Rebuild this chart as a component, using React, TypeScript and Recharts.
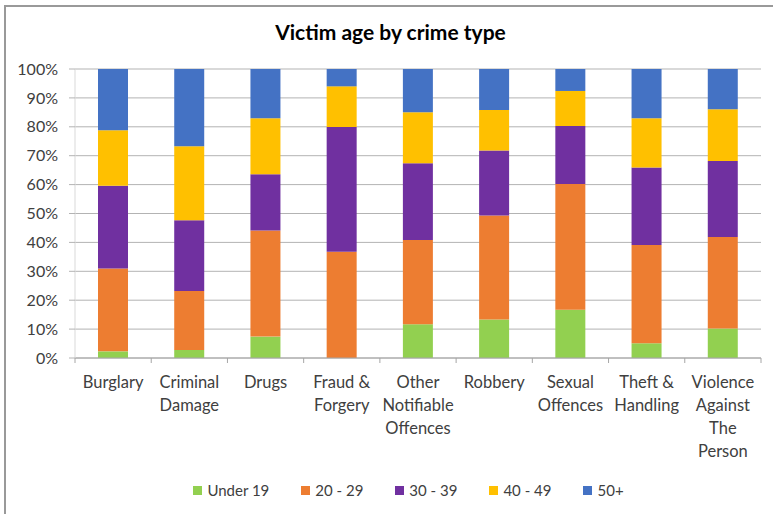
import { BarChart, Bar, XAxis, YAxis, CartesianGrid, Legend } from "recharts";

const categories = [
  "Burglary",
  "Criminal\nDamage",
  "Drugs",
  "Fraud &\nForgery",
  "Other\nNotifiable\nOffences",
  "Robbery",
  "Sexual\nOffences",
  "Theft &\nHandling",
  "Violence\nAgainst\nThe\nPerson",
];

// share of victims (%) per age band
const under19 = [2.3, 2.8, 7.4, 0, 11.7, 13.3, 16.7, 5.1, 10.2];
const age20to29 = [28.7, 20.4, 36.7, 36.8, 29.1, 36.0, 43.5, 34.0, 31.7];
const age30to39 = [28.6, 24.5, 19.5, 43.1, 26.6, 22.5, 20.1, 26.8, 26.3];
const age40to49 = [19.2, 25.6, 19.4, 14.1, 17.6, 14.0, 12.1, 17.1, 17.9];
const age50plus = [21.2, 26.7, 17.0, 6.0, 15.0, 14.2, 7.6, 17.0, 13.9];

const yTicks = [0, 0.1, 0.2, 0.3, 0.4, 0.5, 0.6, 0.7, 0.8, 0.9, 1];

const series = [
  { key: "u19", label: "Under 19", color: "#92D050", values: under19 },
  { key: "a20", label: "20 - 29", color: "#ED7D31", values: age20to29 },
  { key: "a30", label: "30 - 39", color: "#7030A0", values: age30to39 },
  { key: "a40", label: "40 - 49", color: "#FFC000", values: age40to49 },
  { key: "a50", label: "50+", color: "#4472C4", values: age50plus },
];

const data = categories.map((name, i) => {
  const row: any = { name };
  series.forEach((s) => (row[s.key] = s.values[i]));
  return row;
});

const W = 773;
const H = 514;
const margin = { top: 69, right: 12, left: 0, bottom: 11 };
const yAxisWidth = 75;
const bandWidth = (W - margin.left - margin.right - yAxisWidth) / categories.length;
const font = "Lato, 'Open Sans', sans-serif";

const CategoryTick = (props: any) => {
  const { x, y, payload, index } = props;
  const lines = String(payload.value).split("\n");
  const half = bandWidth / 2;
  return (
    <g>
      <line x1={x - half} x2={x - half} y1={y} y2={y + 5} stroke="#a6a6a6" />
      {index === categories.length - 1 && (
        <line x1={x + half} x2={x + half} y1={y} y2={y + 5} stroke="#a6a6a6" />
      )}
      <text x={x} y={y + 30} textAnchor="middle" fill="#404040" fontSize={16.5} fontFamily={font}>
        {lines.map((l, i) => (
          <tspan key={i} x={x} dy={i === 0 ? 0 : 23}>
            {l}
          </tspan>
        ))}
      </text>
    </g>
  );
};

const LegendContent = () => (
  <div
    style={{
      display: "flex",
      justifyContent: "center",
      alignItems: "center",
      gap: 32,
      height: 26,
      paddingLeft: 56,
      fontFamily: font,
      fontSize: 15,
      color: "#404040",
    }}
  >
    {series.map((s) => (
      <div key={s.key} style={{ display: "flex", alignItems: "center" }}>
        <span style={{ width: 9, height: 9, background: s.color, marginRight: 5, display: "inline-block" }} />
        {s.label}
      </div>
    ))}
  </div>
);

export default function App() {
  return (
    <div style={{ position: "relative", width: W, height: H, background: "#fff", overflow: "hidden" }}>
      <style>{"body{margin:0}"}</style>
      <div
        style={{
          position: "absolute",
          left: 4,
          top: 5,
          width: W,
          height: H,
          borderLeft: "2px solid #999",
          borderTop: "2px solid #999",
        }}
      />
      <div
        style={{
          position: "absolute",
          top: 19,
          left: 0,
          width: W,
          paddingLeft: 8,
          boxSizing: "border-box",
          textAlign: "center",
          fontFamily: font,
          fontWeight: "bold",
          fontSize: 21,
          color: "#000",
        }}
      >
        Victim age by crime type
      </div>
      <BarChart width={W} height={H} data={data} margin={margin} stackOffset="expand" barSize={30}>
        <CartesianGrid vertical={false} stroke="#b3b3b3" />
        <XAxis
          dataKey="name"
          height={119}
          interval={0}
          tickSize={0}
          tickMargin={0}
          tickLine={false}
          axisLine={{ stroke: "#a6a6a6" }}
          tick={<CategoryTick />}
        />
        <YAxis
          width={yAxisWidth}
          domain={[0, 1]}
          ticks={yTicks}
          tickFormatter={(v) => `${Math.round(v * 100)}%`}
          tickSize={6}
          tickMargin={11}
          axisLine={{ stroke: "#d9d9d9" }}
          tickLine={{ stroke: "#b3b3b3" }}
          tick={{ fill: "#404040", fontSize: 16, fontFamily: font }}
        />
        <Legend verticalAlign="bottom" height={26} content={<LegendContent />} />
        {series.map((s) => (
          <Bar key={s.key} dataKey={s.key} name={s.label} stackId="a" fill={s.color} isAnimationActive={false} />
        ))}
      </BarChart>
    </div>
  );
}
